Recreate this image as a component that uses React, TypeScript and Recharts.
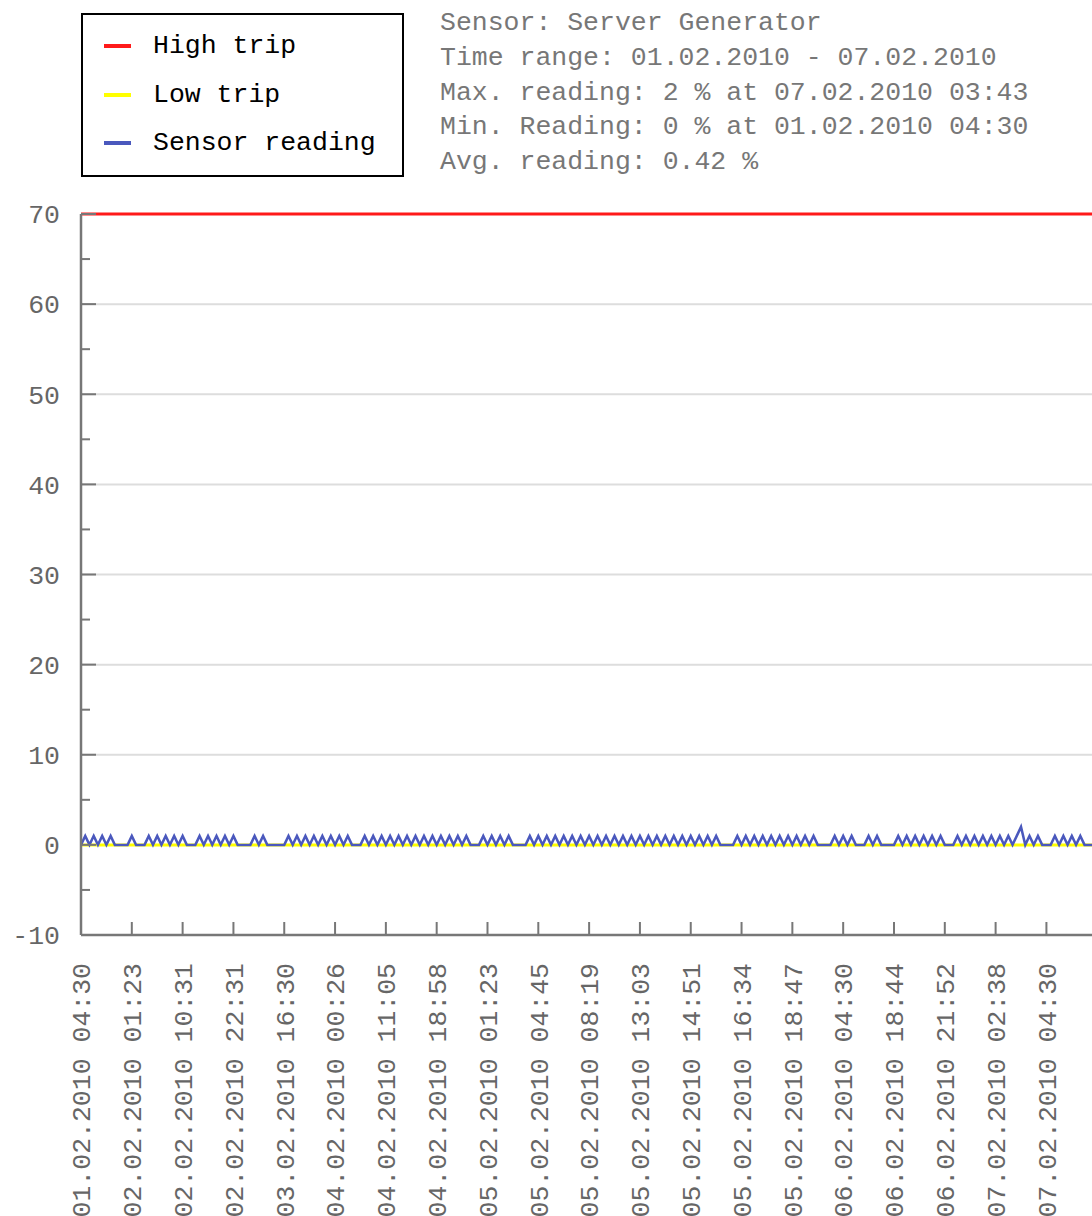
import { Line, LineChart, ReferenceLine, XAxis, YAxis } from 'recharts';

// tick labels, one every 12 readings
const tickLabels = [
  '01.02.2010 04:30',
  '02.02.2010 01:23',
  '02.02.2010 10:31',
  '02.02.2010 22:31',
  '03.02.2010 16:30',
  '04.02.2010 00:26',
  '04.02.2010 11:05',
  '04.02.2010 18:58',
  '05.02.2010 01:23',
  '05.02.2010 04:45',
  '05.02.2010 08:19',
  '05.02.2010 13:03',
  '05.02.2010 14:51',
  '05.02.2010 16:34',
  '05.02.2010 18:47',
  '06.02.2010 04:30',
  '06.02.2010 18:44',
  '06.02.2010 21:52',
  '07.02.2010 02:38',
  '07.02.2010 04:30',
];
const pointsPerTick = 12;

// sensor reading (%), one row per tick interval
const sensorReading = [
  0, 1, 0, 1, 0, 1, 0, 1, 0, 0, 0, 0,
  1, 0, 0, 0, 1, 0, 1, 0, 1, 0, 1, 0,
  1, 0, 0, 0, 1, 0, 1, 0, 1, 0, 1, 0,
  1, 0, 0, 0, 0, 1, 0, 1, 0, 0, 0, 0,
  0, 1, 0, 1, 0, 1, 0, 1, 0, 1, 0, 1,
  0, 1, 0, 1, 0, 0, 0, 1, 0, 1, 0, 1,
  0, 1, 0, 1, 0, 1, 0, 1, 0, 1, 0, 1,
  0, 1, 0, 1, 0, 1, 0, 1, 0, 0, 0, 1,
  0, 1, 0, 1, 0, 1, 0, 0, 0, 0, 1, 0,
  1, 0, 1, 0, 1, 0, 1, 0, 1, 0, 1, 0,
  1, 0, 1, 0, 1, 0, 1, 0, 1, 0, 1, 0,
  1, 0, 1, 0, 1, 0, 1, 0, 1, 0, 1, 0,
  1, 0, 1, 0, 1, 0, 1, 0, 0, 0, 0, 1,
  0, 1, 0, 1, 0, 1, 0, 1, 0, 1, 0, 1,
  0, 1, 0, 1, 0, 1, 0, 0, 0, 0, 1, 0,
  1, 0, 1, 0, 0, 0, 1, 0, 1, 0, 0, 0,
  0, 1, 0, 1, 0, 1, 0, 1, 0, 1, 0, 1,
  0, 0, 0, 1, 0, 1, 0, 1, 0, 1, 0, 1,
  0, 1, 0, 1, 0, 1, 2, 0, 1, 0, 1, 0,
  0, 0, 1, 0, 1, 0, 1, 0, 1, 0, 0, 0,
];

const highTrip = 70;
const lowTrip = 0;

const yTicks = [-10, -5, 0, 5, 10, 15, 20, 25, 30, 35, 40, 45, 50, 55, 60, 65, 70];
const yGridValues = [10, 20, 30, 40, 50, 60];

const infoLines = [
  'Sensor: Server Generator',
  'Time range: 01.02.2010 - 07.02.2010',
  'Max. reading: 2 % at 07.02.2010 03:43',
  'Min. Reading: 0 % at 01.02.2010 04:30',
  'Avg. reading: 0.42 %',
];

const series = [
  { key: 'high', name: 'High trip', color: '#ff1a1a', width: 3 },
  { key: 'low', name: 'Low trip', color: '#ffff00', width: 3 },
  { key: 'reading', name: 'Sensor reading', color: '#4a58bd', width: 2.5 },
];

const chartData = sensorReading.map((v, i) => ({ idx: i, reading: v, high: highTrip, low: lowTrip }));
const xTicks = tickLabels.map((_, k) => k * pointsPerTick);

const FONT = "'Liberation Mono', 'DejaVu Sans Mono', monospace";
const AXIS = '#777';

const YTick = ({ x, y, payload }: any) => {
  const major = payload.value % 10 === 0;
  return (
    <g>
      <line x1={x} x2={x + (major ? 15 : 9)} y1={y} y2={y} stroke={AXIS} strokeWidth={2} />
      {major && (
        <text x={x - 21} y={y} dy="0.35em" textAnchor="end" fill="#666" fontSize={26.5} fontFamily={FONT}>
          {payload.value}
        </text>
      )}
    </g>
  );
};

const XTick = ({ x, y, payload }: any) => (
  <g>
    <line x1={x} x2={x} y1={y} y2={y - 13} stroke={AXIS} strokeWidth={2} />
    <text
      transform={`translate(${x},${y + 28}) rotate(-90)`}
      textAnchor="end"
      dy="0.35em"
      fill="#666"
      fontSize={26.5}
      fontFamily={FONT}
    >
      {tickLabels[payload.value / pointsPerTick]}
    </text>
  </g>
);

export default function App() {
  return (
    <div style={{ position: 'absolute', left: 0, top: 0, width: 1092, height: 1216, overflow: 'hidden', background: '#fff' }}>
      <LineChart width={1101} height={1216} data={chartData} margin={{ top: 214, right: 8, bottom: 0, left: 0 }}>
        {yGridValues.map((v) => (
          <ReferenceLine key={v} y={v} stroke="#ddd" strokeWidth={2} />
        ))}
        <XAxis
          type="number"
          dataKey="idx"
          domain={[0, sensorReading.length - 1]}
          ticks={xTicks}
          interval={0}
          height={281}
          tickSize={0}
          tickMargin={0}
          tickLine={false}
          axisLine={{ stroke: AXIS, strokeWidth: 2.5 }}
          tick={<XTick />}
        />
        <YAxis
          type="number"
          domain={[-10, 70]}
          ticks={yTicks}
          interval={0}
          width={81}
          tickSize={0}
          tickMargin={0}
          tickLine={false}
          axisLine={{ stroke: AXIS, strokeWidth: 2.5 }}
          tick={<YTick />}
        />
        {series.map((s) => (
          <Line
            key={s.key}
            type="linear"
            dataKey={s.key}
            name={s.name}
            stroke={s.color}
            strokeWidth={s.width}
            dot={false}
            activeDot={false}
            isAnimationActive={false}
          />
        ))}
      </LineChart>

      <div
        style={{
          position: 'absolute',
          left: 81,
          top: 13,
          width: 323,
          height: 164,
          border: '2px solid #000',
          boxSizing: 'border-box',
          background: '#fff',
          fontFamily: FONT,
          fontSize: 26.5,
          color: '#000',
        }}
      >
        {series.map((s, i) => (
          <div
            key={s.key}
            style={{ position: 'absolute', left: 0, top: 13 + i * 48.5, height: 36, display: 'flex', alignItems: 'center' }}
          >
            <span style={{ display: 'inline-block', marginLeft: 21, width: 27, height: 4, background: s.color }} />
            <span style={{ marginLeft: 22, whiteSpace: 'pre' }}>{s.name}</span>
          </div>
        ))}
      </div>

      <div style={{ position: 'absolute', left: 440, top: 6, fontFamily: FONT, fontSize: 26.5, color: '#777', lineHeight: '34.8px' }}>
        {infoLines.map((t) => (
          <div key={t} style={{ whiteSpace: 'pre' }}>
            {t}
          </div>
        ))}
      </div>
    </div>
  );
}
